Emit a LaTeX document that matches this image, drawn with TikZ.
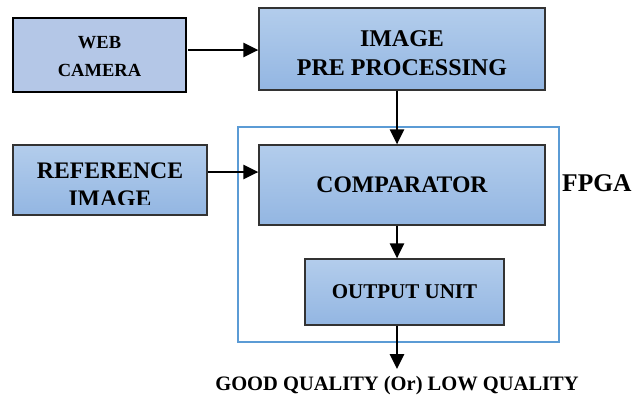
\documentclass[tikz,border=0pt]{standalone}
\usepackage{fontspec}
\setmainfont{Liberation Serif}
\usetikzlibrary{arrows.meta}
\definecolor{boxtop}{HTML}{B3CDEC}
\definecolor{boxbot}{HTML}{93B6E2}
\definecolor{flatbox}{HTML}{B4C7E7}
\definecolor{fpgablue}{HTML}{5B9BD5}
\definecolor{edge}{HTML}{333333}
\tikzset{
  gbox/.style={draw=edge, line width=1.2pt, top color=boxtop, bottom color=boxbot, inner sep=0pt, text=black, font=\bfseries, align=center},
  fbox/.style={draw=black, line width=1.8pt, fill=flatbox, inner sep=0pt, text=black, align=center},
  arr/.style={line width=2.6pt, -{Triangle[length=15pt,width=14pt]}},
  lbl/.style={inner sep=0pt, font=\bfseries, align=center}
}
\begin{document}
\begin{tikzpicture}[x=1pt,y=-1pt]
\useasboundingbox (0,0) rectangle (634,408);
% FPGA frame
\draw[fpgablue, line width=1.6pt] (238,127) rectangle (559,342);
\node[lbl, anchor=west, font=\fontsize{25.5}{28}\bfseries\selectfont] (fpga) at (562,183) {FPGA};
% boxes
\node[fbox, minimum width=173pt, minimum height=74pt] (web) at (99.5,55) {};
\node[lbl, font=\fontsize{18.5}{28}\bfseries\selectfont] (webt) at (99.5,57) {WEB\\CAMERA};
\node[gbox, minimum width=286pt, minimum height=82pt] (img) at (402,49) {};
\node[lbl, font=\fontsize{24}{29}\bfseries\selectfont] (imgt) at (402,53) {IMAGE\\PRE PROCESSING};
\node[gbox, minimum width=194pt, minimum height=70pt] (ref) at (110,180) {};
\begin{scope}
\clip (13,145) rectangle (207,204);
\node[lbl, font=\fontsize{23.7}{28}\bfseries\selectfont, anchor=north] (reft) at (110,163) {REFERENCE\\IMAGE};
\end{scope}
\node[gbox, minimum width=286pt, minimum height=80pt, font=\fontsize{23.7}{28}\bfseries\selectfont] (comp) at (402,185) {COMPARATOR};
\node[gbox, minimum width=199pt, minimum height=66pt, font=\fontsize{21}{25}\bfseries\selectfont] (out) at (404.5,292) {OUTPUT UNIT};
\node[lbl, font=\fontsize{20.5}{24}\bfseries\selectfont] (res) at (397,386) {GOOD QUALITY (Or) LOW QUALITY};
% connectors
\coordinate (cx) at (397,0);
\coordinate (tip) at (397,369);
\draw[arr] ([xshift=1.5pt,yshift=5pt]web.east) -- ([yshift=5pt]web.east -| img.west);
\draw[arr] ([yshift=8pt]ref.east) -- ([yshift=8pt]ref.east -| comp.west);
\draw[arr] (img.south -| cx) -- (comp.north -| cx);
\draw[arr] (comp.south -| cx) -- (out.north -| cx);
\draw[arr] (out.south -| cx) -- (tip);
\end{tikzpicture}
\end{document}
